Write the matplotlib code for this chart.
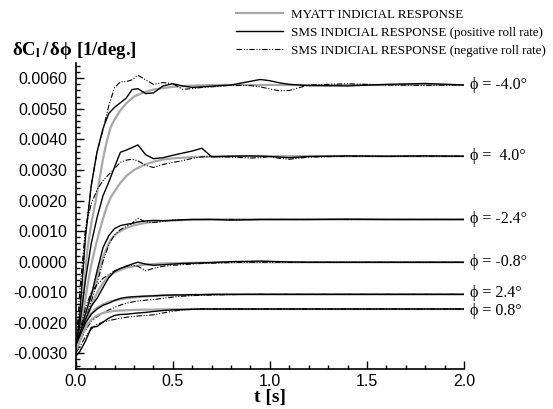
import numpy as np
import matplotlib
matplotlib.use('Agg')
import matplotlib.pyplot as plt
from matplotlib.ticker import MultipleLocator, FuncFormatter

plt.rcParams['axes.unicode_minus'] = False
plt.rcParams['mathtext.fontset'] = 'custom'
plt.rcParams['mathtext.rm'] = 'Liberation Serif:bold'
plt.rcParams['mathtext.it'] = 'Liberation Serif:bold'
plt.rcParams['mathtext.bf'] = 'Liberation Serif:bold'
plt.rcParams['mathtext.default'] = 'rm'

# %%
# values are in units of 1e-3 [1/deg.]
cases = ['-4.0', ' 4.0', '-2.4', '-0.8', '2.4', '0.8']
label_y = [5.78, 3.45, 1.38, -0.02, -1.03, -1.63]

t_myatt = [0, 0.02, 0.04, 0.06, 0.08, 0.1, 0.12, 0.14, 0.16, 0.18, 0.2, 0.23,
           0.26, 0.3, 0.35, 0.4, 0.45, 0.5, 0.6, 0.7, 0.8, 1.0, 1.5, 2.0]
myatt_m40 = [-2.9, -2.5, -1.0, 0.4, 1.25, 1.9, 2.6, 3.35, 3.95, 4.4, 4.65, 4.95,
             5.18, 5.4, 5.54, 5.63, 5.68, 5.72, 5.76, 5.78, 5.78, 5.78, 5.78, 5.78]
myatt_p40 = [-2.9, -2.4, -1.6, -0.8, -0.1, 0.45, 0.95, 1.4, 1.8, 2.1, 2.3, 2.58,
             2.8, 3.0, 3.16, 3.27, 3.34, 3.38, 3.42, 3.44, 3.45, 3.45, 3.45, 3.45]
myatt_m24 = [-2.9, -2.5, -2.0, -1.5, -1.1, -0.75, -0.3, 0.15, 0.45, 0.72, 0.87, 1.0,
             1.1, 1.19, 1.26, 1.3, 1.33, 1.35, 1.37, 1.38, 1.38, 1.38, 1.38, 1.38]
myatt_m08 = [-2.9, -2.6, -2.2, -1.8, -1.45, -1.15, -0.9, -0.7, -0.55, -0.43, -0.35, -0.27,
             -0.2, -0.15, -0.1, -0.08, -0.06, -0.05, -0.04, -0.03, -0.02, -0.02, -0.02, -0.02]
myatt_p24 = [-2.9, -2.6, -2.2, -1.9, -1.7, -1.56, -1.47, -1.4, -1.35, -1.3, -1.27, -1.23,
             -1.2, -1.17, -1.14, -1.12, -1.11, -1.1, -1.09, -1.08, -1.07, -1.07, -1.07, -1.07]
myatt_p08 = [-2.9, -2.6, -2.3, -2.05, -1.9, -1.8, -1.73, -1.68, -1.65, -1.63, -1.61, -1.6,
             -1.59, -1.58, -1.57, -1.57, -1.56, -1.56, -1.55, -1.55, -1.55, -1.55, -1.55, -1.55]

t_sms = [0, 0.02, 0.05, 0.08, 0.11, 0.14, 0.17, 0.2, 0.23, 0.26, 0.29, 0.32, 0.36, 0.4,
         0.45, 0.5, 0.55, 0.6, 0.65, 0.7, 0.8, 0.9, 0.95, 1.0, 1.05, 1.1, 1.2, 1.4, 1.6, 1.8, 2.0]
# positive roll rate
pos_m40 = [-2.9, -1.8, 0.8, 2.5, 3.6, 4.35, 4.85, 5.05, 5.2, 5.35, 5.63, 5.66, 5.5, 5.52,
           5.75, 5.82, 5.75, 5.7, 5.72, 5.74, 5.78, 5.9, 5.96, 5.92, 5.85, 5.8, 5.76, 5.75, 5.8, 5.83, 5.78]
pos_p40 = [-2.9, -2.1, -0.6, 0.6, 1.45, 2.15, 2.6, 3.1, 3.58, 3.65, 3.73, 3.82, 3.5, 3.37,
           3.4, 3.48, 3.55, 3.62, 3.71, 3.43, 3.45, 3.46, 3.45, 3.44, 3.42, 3.4, 3.44, 3.46, 3.45, 3.46, 3.45]
pos_m24 = [-2.9, -2.4, -1.7, -1.1, -0.3, 0.45, 0.85, 1.08, 1.18, 1.22, 1.25, 1.3, 1.33, 1.35,
           1.34, 1.35, 1.37, 1.38, 1.38, 1.38, 1.36, 1.37, 1.38, 1.38, 1.38, 1.38, 1.38, 1.39, 1.38, 1.38, 1.38]
pos_m08 = [-2.9, -2.5, -1.9, -1.45, -1.2, -0.85, -0.52, -0.32, -0.22, -0.15, -0.08, -0.02, -0.08, -0.12,
           -0.1, -0.08, -0.06, -0.05, -0.04, -0.03, 0.0, 0.01, 0.02, 0.01, 0.0, -0.01, -0.02, -0.02, -0.02, -0.02, -0.02]
pos_p24 = [-2.9, -2.5, -2.0, -1.72, -1.55, -1.43, -1.36, -1.27, -1.2, -1.17, -1.15, -1.14, -1.13, -1.12,
           -1.1, -1.09, -1.09, -1.08, -1.08, -1.07, -1.07, -1.07, -1.07, -1.07, -1.07, -1.07, -1.07, -1.07, -1.07, -1.07, -1.07]
pos_p08 = [-3.1, -2.95, -2.6, -2.15, -2.12, -1.98, -1.85, -1.76, -1.73, -1.72, -1.7, -1.68, -1.66, -1.63,
           -1.6, -1.58, -1.57, -1.56, -1.55, -1.55, -1.55, -1.55, -1.55, -1.55, -1.55, -1.55, -1.55, -1.55, -1.55, -1.55, -1.55]
# negative roll rate
neg_m40 = [-2.9, -1.6, 0.9, 2.5, 3.6, 4.3, 5.1, 5.7, 5.88, 5.89, 5.95, 6.1, 5.95, 5.8,
           5.86, 5.82, 5.64, 5.66, 5.7, 5.72, 5.77, 5.76, 5.72, 5.65, 5.59, 5.6, 5.78, 5.82, 5.78, 5.77, 5.78]
neg_p40 = [-2.9, -1.0, 1.1, 1.9, 2.35, 2.65, 2.85, 3.05, 3.25, 3.32, 3.35, 3.3, 3.15, 3.08,
           3.18, 3.25, 3.3, 3.38, 3.43, 3.44, 3.42, 3.39, 3.4, 3.44, 3.38, 3.35, 3.42, 3.45, 3.44, 3.45, 3.45]
neg_m24 = [-2.9, -2.5, -1.9, -1.3, -0.7, 0.0, 0.55, 0.88, 1.05, 1.15, 1.25, 1.42, 1.3, 1.28,
           1.32, 1.36, 1.37, 1.38, 1.38, 1.38, 1.38, 1.38, 1.38, 1.38, 1.38, 1.38, 1.38, 1.38, 1.38, 1.38, 1.38]
neg_m08 = [-2.9, -2.3, -1.5, -1.0, -0.75, -0.55, -0.42, -0.3, -0.22, -0.15, -0.12, -0.15, -0.3, -0.22,
           -0.15, -0.12, -0.1, -0.08, -0.06, -0.05, -0.03, -0.02, -0.02, -0.02, -0.02, -0.02, -0.02, -0.02, -0.02, -0.02, -0.02]
neg_p24 = [-2.9, -2.6, -2.25, -1.95, -1.8, -1.68, -1.58, -1.5, -1.42, -1.36, -1.32, -1.29, -1.26, -1.24,
           -1.2, -1.16, -1.13, -1.11, -1.1, -1.09, -1.08, -1.07, -1.07, -1.07, -1.07, -1.07, -1.07, -1.07, -1.07, -1.07, -1.07]
neg_p08 = [-3.0, -2.8, -2.45, -2.2, -2.05, -1.98, -1.93, -1.89, -1.85, -1.82, -1.8, -1.78, -1.76, -1.74,
           -1.68, -1.62, -1.58, -1.56, -1.55, -1.55, -1.55, -1.55, -1.55, -1.55, -1.55, -1.55, -1.55, -1.55, -1.55, -1.55, -1.55]

myatt = [myatt_m40, myatt_p40, myatt_m24, myatt_m08, myatt_p24, myatt_p08]
pos = [pos_m40, pos_p40, pos_m24, pos_m08, pos_p24, pos_p08]
neg = [neg_m40, neg_p40, neg_m24, neg_m08, neg_p24, neg_p08]

# %%
fig = plt.figure(figsize=(5.53, 4.09), dpi=100)
ax = fig.add_axes([0.137, 0.098, 0.702, 0.748])

for k in range(len(cases)):
    ax.plot(t_myatt, np.array(myatt[k]) * 1e-3, color='#a8a8a8', lw=1.6,
            label='MYATT INDICIAL RESPONSE' if k == 0 else None)
    ax.plot(t_sms, np.array(pos[k]) * 1e-3, color='black', lw=1.0,
            label='SMS INDICIAL RESPONSE (positive roll rate)' if k == 0 else None)
    ax.plot(t_sms, np.array(neg[k]) * 1e-3, color='black', lw=0.8,
            dashes=(5, 1.5, 1, 1.5, 1, 1.5),
            label='SMS INDICIAL RESPONSE (negative roll rate)' if k == 0 else None)
    ax.text(2.03, label_y[k] * 1e-3, '\u03d5 = ' + cases[k] + '\u00b0', va='center', ha='left',
            fontsize=11.5, family=['Liberation Serif', 'DejaVu Serif'], clip_on=False)

ax.set_xlim(0, 2.0)
ax.set_ylim(-0.00351, 0.0065)
ax.spines['top'].set_visible(False)
ax.spines['right'].set_visible(False)
ax.xaxis.set_major_locator(MultipleLocator(0.5))
ax.xaxis.set_minor_locator(MultipleLocator(0.1))
ax.yaxis.set_major_locator(MultipleLocator(0.001))
ax.yaxis.set_minor_locator(MultipleLocator(0.0002))
ax.xaxis.set_major_formatter(FuncFormatter(lambda v, p: '%.1f' % v))
ax.yaxis.set_major_formatter(FuncFormatter(lambda v, p: '%.4f' % v))
ax.tick_params(which='both', direction='in', width=1.0, labelsize=11.5,
               labelfontfamily='Liberation Sans')
ax.tick_params(which='major', length=6)
ax.tick_params(which='minor', length=3)
ax.tick_params(axis='y', pad=6)
ax.tick_params(axis='x', pad=4)
for s in ['left', 'bottom']:
    ax.spines[s].set_linewidth(1.2)

ax.set_xlabel('t [s]', fontsize=14, fontweight='bold', family='Liberation Serif', labelpad=0)
fig.text(0.022, 0.865, r'$\delta C_l\,/\,\delta\phi$ [1/deg.]', fontsize=13.5,
         fontweight='bold', family='Liberation Serif')

fig.legend(loc='upper right', bbox_to_anchor=(1.008, 1.008), frameon=False,
           prop={'family': 'Liberation Serif', 'size': 9.4},
           handlelength=3.6, handletextpad=0.6, labelspacing=0.45)

fig.savefig('out.png', dpi=100)
